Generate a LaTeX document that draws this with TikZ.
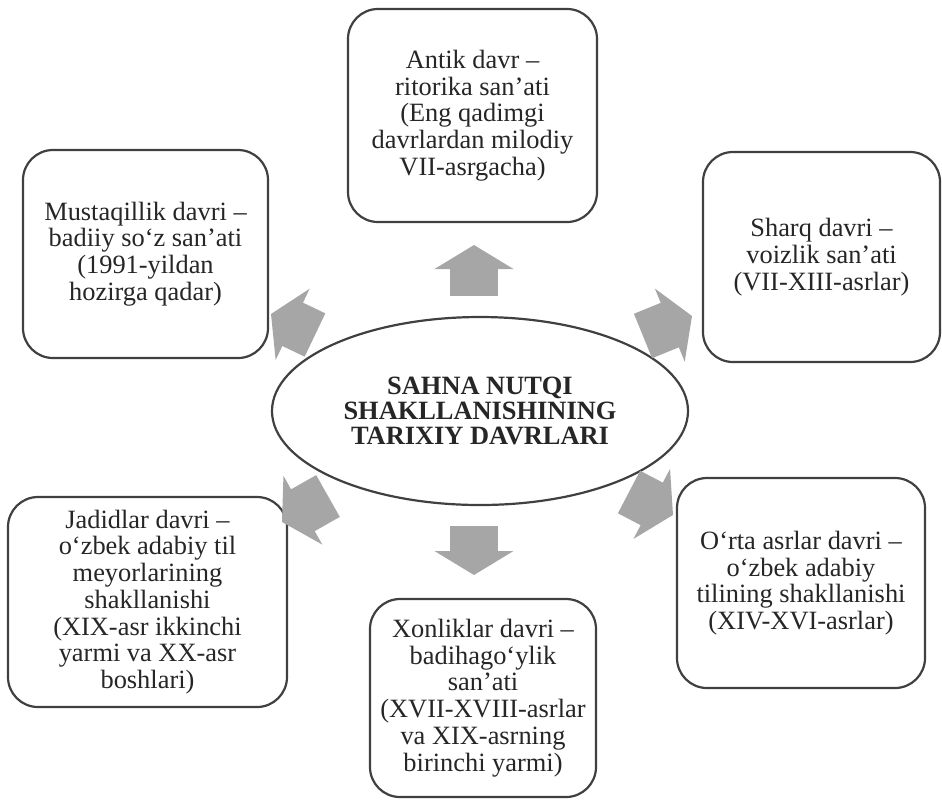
\documentclass[tikz,border=0pt]{standalone}
\usepackage{fontspec}
\setmainfont{Liberation Serif}
\usetikzlibrary{arrows.meta,shapes.geometric}
\definecolor{boxline}{HTML}{404040}
\definecolor{arrowfill}{HTML}{A6A6A6}
\definecolor{txt}{HTML}{262626}
\tikzset{
  davr/.style={draw=boxline, line width=1.1pt, rounded corners=15pt, fill=white,
    align=center, text=txt, inner sep=0pt},
  markaz/.style={ellipse, draw=boxline, line width=1.1pt, fill=white, align=center,
    text=txt, inner sep=0pt, font=\fontsize{13.2}{12.6}\selectfont\bfseries},
  strelka/.style={arrowfill, line width=24pt, -{Triangle[length=12pt,width=39pt]}}
}
\begin{document}
\begin{tikzpicture}[x=0.5pt,y=-0.5pt,font=\fontsize{13.2}{13.35}\selectfont]
  \useasboundingbox (0,0) rectangle (942,805);
  \draw
    (480,411) node[markaz, minimum width=208pt, minimum height=94pt] (markaz)
      {SAHNA NUTQI\\SHAKLLANISHINING\\TARIXIY DAVRLARI}
    (472.5,115.5) node[davr, minimum width=124.5pt, minimum height=106.5pt] (antik)
      {Antik davr –\\ritorika san’ati\\(Eng qadimgi\\davrlardan milodiy\\VII-asrgacha)}
    (821.5,257) node[davr, minimum width=118.5pt, minimum height=105pt] (sharq)
      {Sharq davri –\\voizlik san’ati\\(VII-XIII-asrlar)}
    (801,583) node[davr, minimum width=124pt, minimum height=105pt] (orta)
      {O‘rta asrlar davri –\\o‘zbek adabiy\\tilining shakllanishi\\(XIV-XVI-asrlar)}
    (483,698) node[davr, minimum width=113pt, minimum height=99pt] (xonlik)
      {Xonliklar davri –\\badihago‘ylik\\san’ati\\(XVII-XVIII-asrlar\\va XIX-asrning\\birinchi yarmi)}
    (147.5,602) node[davr, minimum width=139.5pt, minimum height=105pt] (jadid)
      {Jadidlar davri –\\o‘zbek adabiy til\\meyorlarining\\shakllanishi\\(XIX-asr ikkinchi\\yarmi va XX-asr\\boshlari)}
    (145.5,254) node[davr, minimum width=122.5pt, minimum height=104pt] (mustaqil)
      {Mustaqillik davri –\\badiiy so‘z san’ati\\(1991-yildan\\hozirga qadar)};
  \coordinate (t1) at (474,296); \coordinate (h1) at (474,245);
  \coordinate (t2) at (643,336); \coordinate (h2) at (692,316);
  \coordinate (t3) at (629,492); \coordinate (h3) at (673,515);
  \coordinate (t4) at (474,526); \coordinate (h4) at (474,575);
  \coordinate (t5) at (328,496); \coordinate (h5) at (282,522);
  \coordinate (t6) at (315,335); \coordinate (h6) at (271,314);
  \begin{scope}[strelka]
    \draw (t1) to (h1);
    \draw (t2) to (h2);
    \draw (t3) to (h3);
    \draw (t4) to (h4);
    \draw (t5) to (h5);
    \draw (t6) to (h6);
  \end{scope}
\end{tikzpicture}
\end{document}
